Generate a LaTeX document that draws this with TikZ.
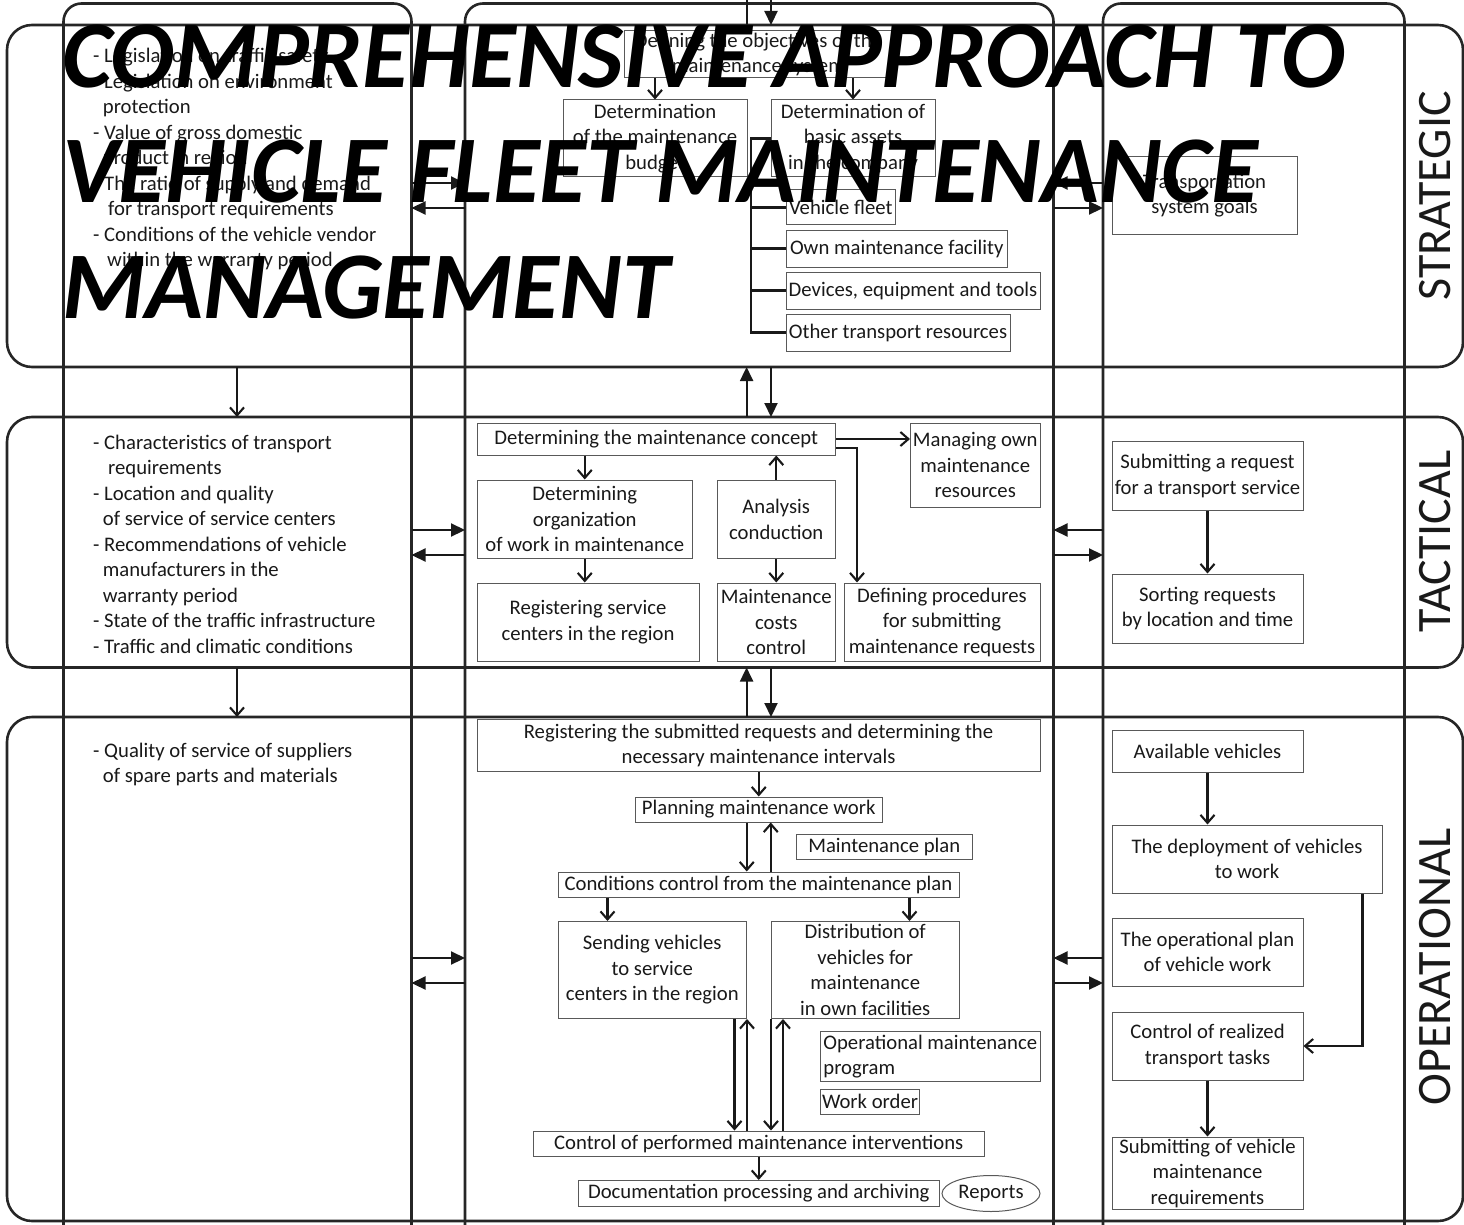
\documentclass[tikz,border=0pt]{standalone}
\usepackage{fontspec}
\setmainfont{Carlito}
\usetikzlibrary{arrows.meta,shapes.geometric,calc}

\newcommand\boxtextfont{\fontsize{20.7}{25.5}\selectfont}

\tikzset{
  lane/.style={draw=black!85, line width=2.6pt},
  box/.style={draw=black!65, line width=1pt, inner sep=0pt, align=center,
              text=black!90, font=\boxtextfont},
  % multi-line blocks are placed by the baseline of their last line
  plain/.style={font=\boxtextfont, text=black!90, align=left, inner sep=0pt, anchor=base west},
  flow/.style={draw=black!90, line width=2.1pt, -{Straight Barb[length=8pt,width=14pt]}},
  link/.style={draw=black!90, line width=2.2pt, -{Triangle[length=14pt,width=13pt]}},
  bar/.style={draw=black!90, line width=2.1pt},
  level/.style={font=\fontsize{48}{50}\selectfont, text=black!90, rotate=90, inner sep=0pt},
  headline/.style={font=\fontsize{95.5}{115}\selectfont\bfseries\itshape, inner sep=0pt,
                   anchor=base west, text=black},
}

% box given by its left, top, right and bottom edges
\newcommand\placebox[7][]{%
  \node[box,#1,minimum width={#5pt-#3pt},minimum height={#6pt-#4pt}]
    (#2) at ({(#3+#5)/2},{(#4+#6)/2}) {#7};}

\begin{document}
\begin{tikzpicture}[x=1pt,y=-1pt]
\useasboundingbox (0,0) rectangle (1464,1225);

% ---- columns: environment, maintenance system, transport system
\draw[lane, rounded corners=18pt] (63.5,1230) -- (63.5,3.5) -- (411.5,3.5) -- (411.5,1230);
\draw[lane, rounded corners=18pt] (465,1230) -- (465,3.5) -- (1053.5,3.5) -- (1053.5,1230);
\draw[lane, rounded corners=18pt] (1103,1230) -- (1103,3.5) -- (1404.5,3.5) -- (1404.5,1230);

% ---- decision levels
\node[lane, rounded corners=25pt, minimum width=1456pt, minimum height=342pt, inner sep=0pt]
  (strategic) at (735,196) {};
\node[lane, rounded corners=25pt, minimum width=1456pt, minimum height=250.5pt, inner sep=0pt]
  (tactical) at (735,542.25) {};
\node[lane, rounded corners=25pt, minimum width=1456pt, minimum height=504pt, inner sep=0pt]
  (operational) at (735,969) {};

\node[level] (lvS) at (1435,196) {STRATEGIC};
\node[level] (lvT) at (1435,541.5) {TACTICAL};
\node[level] (lvO) at (1435,967) {OPERATIONAL};

% ---- exchange between the columns on every level
\foreach \lv/\ya/\yb in {str/183/208, tac/530/555, ope/958/983}{
  \coordinate (\lv-La) at (411.5,\ya); \coordinate (\lv-Ma) at (465,\ya);
  \coordinate (\lv-Lb) at (411.5,\yb); \coordinate (\lv-Mb) at (465,\yb);
  \coordinate (\lv-Na) at (1053.5,\ya); \coordinate (\lv-Ra) at (1103,\ya);
  \coordinate (\lv-Nb) at (1053.5,\yb); \coordinate (\lv-Rb) at (1103,\yb);
  \draw[link] (\lv-La) -- (\lv-Ma);
  \draw[link] (\lv-Mb) -- (\lv-Lb);
  \draw[link] (\lv-Ra) -- (\lv-Na);
  \draw[link] (\lv-Nb) -- (\lv-Rb);
}

% ---- links between levels
\coordinate (inTop) at (771,0);   \coordinate (inEnd) at (771,25);
\coordinate (outTop) at (746.6,0); \coordinate (outEnd) at (746.6,25);
\draw[link] (inTop) -- (inEnd);
\draw[bar] (outEnd) -- (outTop);
\foreach \k/\ya/\yb in {a/367/417, b/667.5/717}{
  \coordinate (up\k s) at (746.6,\yb); \coordinate (up\k e) at (746.6,\ya);
  \coordinate (dn\k s) at (771,\ya);   \coordinate (dn\k e) at (771,\yb);
  \coordinate (env\k s) at (237,\ya);  \coordinate (env\k e) at (237,\yb);
  \draw[link] (up\k s) -- (up\k e);
  \draw[link] (dn\k s) -- (dn\k e);
  \draw[flow] (env\k s) -- (env\k e);
}

% ---- environment factors
\node[plain] (envS) at (93,266.5) {- Legislation on traffic safety\\
- Legislation on environment\\
\hspace*{9.7pt}protection\\
- Value of gross domestic\\
\hspace*{9.7pt}product in region\\
- The ratio of supply and demand\\
\hspace*{15pt}for transport requirements\\
- Conditions of the vehicle vendor\\
\hspace*{14pt}within the warranty period};

\node[plain] (envT) at (93,653) {- Characteristics of transport\\
\hspace*{15pt}requirements\\
- Location and quality\\
\hspace*{9.7pt}of service of service centers\\
- Recommendations of vehicle\\
\hspace*{9.7pt}manufacturers in the\\
\hspace*{9.7pt}warranty period\\
- State of the traffic infrastructure\\
- Traffic and climatic conditions};

\node[plain] (envO) at (93,782.5) {- Quality of service of suppliers\\
\hspace*{9.7pt}of spare parts and materials};

% ---- strategic level
\placebox{obj}{624}{31}{893}{78}{Defining the objectives of the\\maintenance system}
\placebox{budget}{563}{100}{747}{177}{Determination\\of the maintenance\\budget}
\placebox{assets}{771}{100}{935}{177}{Determination of\\basic assets\\in the company}
\placebox{fleet}{786}{190}{895.5}{225}{Vehicle fleet}
\placebox{ownfac}{786}{230}{1007.5}{267}{Own maintenance facility}
\placebox{devices}{786}{272}{1040}{309}{Devices, equipment and tools}
\placebox{otherres}{786}{314}{1010}{351}{Other transport resources}
\placebox{tsgoals}{1112}{157}{1297}{234.5}{Transportation\\system goals}

\draw[flow] (obj.south -| budget.north) -- (budget.north);
\draw[flow] (obj.south -| assets.north) -- (assets.north);
\coordinate (brk) at (751,138.5);
\draw[bar] (assets.west) -- (brk |- assets.west) -- (brk |- otherres.west) -- (otherres.west);
\foreach \b in {fleet,ownfac,devices} \draw[bar] (brk |- \b.west) -- (\b.west);

% ---- tactical level
\placebox{concept}{477}{423}{835.5}{455}{Determining the maintenance concept}
\placebox{managing}{910.5}{423}{1040}{507}{Managing own\\maintenance\\resources}
\placebox{org}{477}{480}{692.5}{558.5}{Determining\\organization\\of work in maintenance}
\placebox{analysis}{717}{480}{835.5}{558.5}{Analysis\\conduction}
\placebox{svcreg}{477}{583}{699}{661}{Registering service\\centers in the region}
\placebox{costs}{717}{583}{835.5}{661}{Maintenance\\costs\\control}
\placebox{procs}{844}{583}{1040}{661}{Defining procedures\\for submitting\\maintenance requests}
\placebox{request}{1112}{441.5}{1303}{510.5}{Submitting a request\\for a transport service}
\placebox{sorting}{1112}{574}{1303}{643}{Sorting requests\\by location and time}

\draw[flow] (concept.east) -- (managing.west |- concept.east);
\coordinate (elb) at (857,448);
\draw[flow] (concept.east |- elb) -- (elb) -- (elb |- procs.north);
\draw[flow] (concept.south -| org.north) -- (org.north);
\draw[flow] (org.south) -- (org.south |- svcreg.north);
\draw[flow] (analysis.north) -- (analysis.north |- concept.south);
\draw[flow] (analysis.south) -- (costs.north);
\draw[flow] (request.south) -- (sorting.north);

% ---- operational level
\placebox{intake}{477}{719}{1040}{771.5}{Registering the submitted requests and determining the\\necessary maintenance intervals}
\placebox{planning}{635}{797}{882.5}{822}{Planning maintenance work}
\placebox{mplan}{796}{834}{972.5}{859}{Maintenance plan}
\placebox{condctl}{558}{872}{959}{897}{Conditions control from the maintenance plan}
\placebox{sending}{558}{921.5}{746.5}{1018.5}{Sending vehicles\\to service\\centers in the region}
\placebox{distrib}{771.5}{921.5}{959}{1018.5}{Distribution of\\vehicles for\\maintenance\\in own facilities}
\placebox[align=left]{opprog}{820.5}{1031.5}{1040}{1081.5}{Operational maintenance\\program}
\placebox{workord}{820.5}{1089}{919.5}{1114}{Work order}
\placebox{perfctl}{533}{1131}{984.5}{1156}{Control of performed maintenance interventions}
\placebox{docs}{578.5}{1180.5}{939}{1206}{Documentation processing and archiving}
\node[draw=black!65, line width=1pt, ellipse, minimum width=98pt, minimum height=36pt,
      inner sep=0pt, font=\boxtextfont, text=black!90] (reports) at (991,1193.5) {Reports};

\placebox{avail}{1112}{730}{1303}{772}{Available vehicles}
\placebox{deploy}{1112}{825}{1382}{893}{The deployment of vehicles\\to work}
\placebox{opplan}{1112}{918}{1303}{986}{The operational plan\\of vehicle work}
\placebox{realctl}{1112}{1012}{1303}{1080}{Control of realized\\transport tasks}
\placebox{submreq}{1112}{1137}{1303}{1209}{Submitting of vehicle\\maintenance\\requirements}

\draw[flow] (planning.north |- intake.south) -- (planning.north);
\draw[flow] ([xshift=-12pt]planning.south) -- ([xshift=-12pt]planning.south |- condctl.north);
\draw[flow] ([xshift=12pt]planning.south |- condctl.north) -- ([xshift=12pt]planning.south);
\draw[flow] ([xshift=50pt]condctl.south west) -- ([xshift=50pt]condctl.south west |- sending.north);
\draw[flow] ([xshift=-50pt]condctl.south east) -- ([xshift=-50pt]condctl.south east |- distrib.north);
\draw[flow] ([xshift=-12.5pt]sending.south east) -- ([xshift=-12.5pt]sending.south east |- perfctl.north);
\draw[flow] (sending.south east |- perfctl.north) -- (sending.south east);
\draw[flow] (distrib.south west) -- (distrib.south west |- perfctl.north);
\draw[flow] ([xshift=12pt]distrib.south west |- perfctl.north) -- ([xshift=12pt]distrib.south west);
\draw[flow] (docs.north |- perfctl.south) -- (docs.north);

\draw[flow] (avail.south) -- (avail.south |- deploy.north);
\draw[flow] ([xshift=-20pt]deploy.south east) -- ([xshift=-20pt]deploy.south east |- realctl.east) -- (realctl.east);
\draw[flow] (realctl.south) -- (submreq.north);

% ---- heading
\node[headline] (title1) at (62,88) {COMPREHENSIVE APPROACH TO};
\node[headline] (title2) at (62,203) {VEHICLE FLEET MAINTENANCE};
\node[headline] (title3) at (62,318) {MANAGEMENT};
\end{tikzpicture}
\end{document}
